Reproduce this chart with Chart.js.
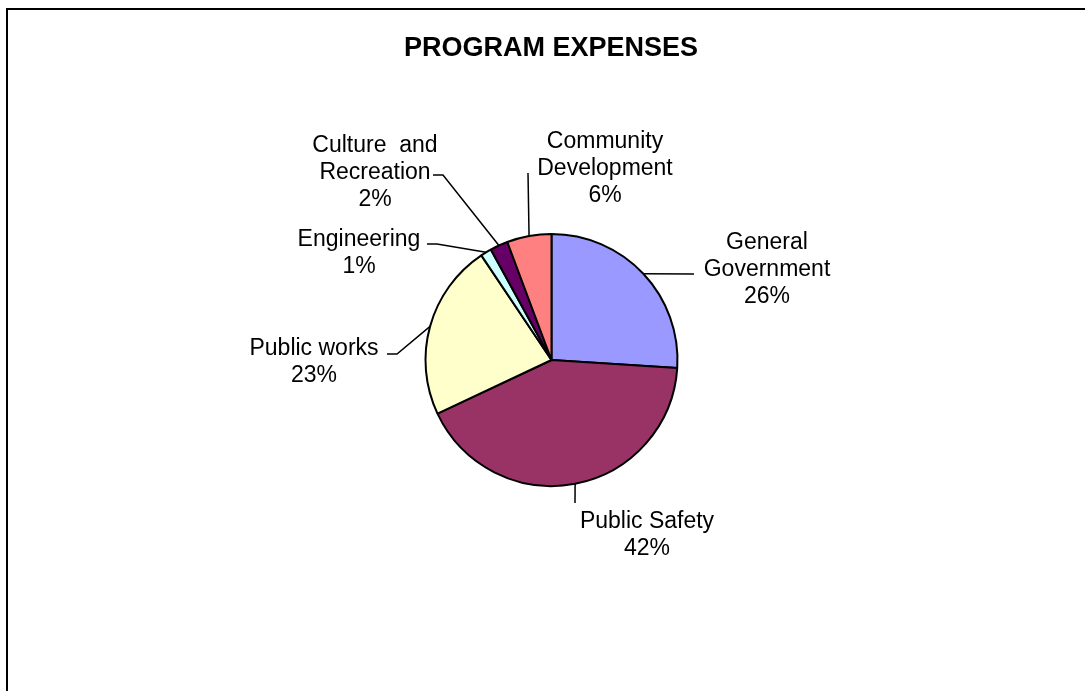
<!DOCTYPE html>
<html>
<head>
<meta charset="utf-8">
<title>Program Expenses</title>
<script src="https://cdn.jsdelivr.net/npm/chart.js@4.4.1/dist/chart.umd.min.js"></script>
<style>
  html, body { margin: 0; padding: 0; background: #fff; }
  #wrap { position: relative; width: 1085px; height: 691px; overflow: hidden; }
  #frame {
    position: absolute; left: 6px; top: 8px; width: 2000px; height: 2000px;
    border-left: 2px solid #000; border-top: 2px solid #000;
  }
  #chart { position: absolute; left: 0; top: 0; }
</style>
</head>
<body>
<div id="wrap">
  <div id="frame"></div>
  <canvas id="chart" width="1085" height="691"></canvas>
</div>
<script>
  // Slices, clockwise from 12 o'clock
  var categories = ["General Government", "Public Safety", "Public works", "Engineering", "Culture and Recreation", "Community Development"];
  var shares = [26.0, 42.0, 22.6, 1.4, 2.3, 5.7];
  var sliceColors = ["#9999FF", "#993366", "#FFFFCC", "#CCFFFF", "#660066", "#FF8080"];
  // how each category name is broken over lines in its label
  var nameLines = [["General", "Government"], ["Public Safety"], ["Public works"], ["Engineering"], ["Culture  and", "Recreation"], ["Community", "Development"]];

  var FONT = '"Liberation Sans", Arial, Helvetica, sans-serif';

  // label block placement (centre x, first baseline) and leader bends, per slice
  var labelPlaces = [
    { x: 767, y: 249, leader: [[694, 274]] },
    { x: 647, y: 528, leader: [[575, 503]] },
    { x: 314, y: 355, leader: [[397, 354], [387, 354]] },
    { x: 359, y: 246, leader: [[437, 244], [427, 244]] },
    { x: 375, y: 152, leader: [[443, 175], [433, 175]] },
    { x: 605, y: 148, leader: [[528, 173]] }
  ];

  var pieLabels = {
    id: "pieLabels",
    afterDatasetsDraw: function (chart) {
      var ctx = chart.ctx;
      var meta = chart.getDatasetMeta(0);
      var total = shares.reduce(function (a, b) { return a + b; }, 0);
      ctx.save();
      ctx.strokeStyle = "#000";
      ctx.lineWidth = 1.5;
      meta.data.forEach(function (arc, i) {
        var p = arc.getProps(["x", "y", "startAngle", "endAngle", "outerRadius"], true);
        var mid = (p.startAngle + p.endAngle) / 2;
        var place = labelPlaces[i];
        ctx.beginPath();
        ctx.moveTo(p.x + Math.cos(mid) * p.outerRadius, p.y + Math.sin(mid) * p.outerRadius);
        place.leader.forEach(function (pt) { ctx.lineTo(pt[0], pt[1]); });
        ctx.stroke();

        var lines = nameLines[i].concat([Math.round(shares[i] / total * 100) + "%"]);
        ctx.fillStyle = "#000";
        ctx.font = "23px " + FONT;
        ctx.textAlign = "center";
        ctx.textBaseline = "alphabetic";
        lines.forEach(function (line, k) {
          ctx.fillText(line, place.x, place.y + k * 27);
        });
      });

      ctx.font = "bold 27px " + FONT;
      ctx.textAlign = "center";
      ctx.fillText("PROGRAM EXPENSES", 551, 56);
      ctx.restore();
    }
  };

  new Chart(document.getElementById("chart"), {
    type: "pie",
    data: {
      labels: categories,
      datasets: [{
        data: shares,
        backgroundColor: sliceColors,
        borderColor: "#000",
        borderWidth: 2
      }]
    },
    options: {
      responsive: false,
      animation: false,
      layout: { padding: { left: 424, right: 406, top: 233, bottom: 204 } },
      plugins: {
        legend: { display: false },
        tooltip: { enabled: false },
        title: { display: false }
      }
    },
    plugins: [pieLabels]
  });
</script>
</body>
</html>
